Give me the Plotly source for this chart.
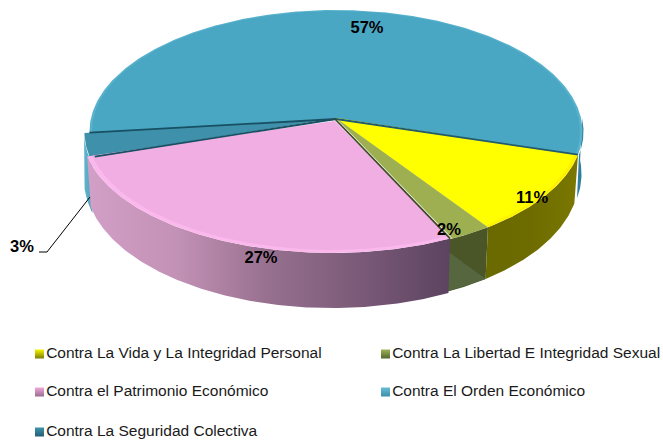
import math
import plotly.graph_objects as go

# ---- data ----
categories = ["Contra La Vida y La Integridad Personal",
              "Contra La Libertad E Integridad Sexual",
              "Contra el Patrimonio Económico",
              "Contra El Orden Económico",
              "Contra La Seguridad Colectiva"]
# order in which slices run clockwise round the pie
slice_names = ["Vida", "Libertad", "Patrimonio", "Seguridad", "Orden"]
slice_values = [10.7, 2.49, 27.01, 3.1, 56.7]
slice_labels = ["11%", "2%", "27%", "3%", "57%"]

# ---- geometry / style ----
CX, CY, A, B, K, DEPTH = 336.0, 118.0, 245.0, 120.0, 0.111, 47.0
START = 17.2
FONT = "Liberation Sans, Arial, sans-serif"
edges = [START]
for val in slice_values:
    edges.append(edges[-1] + val * 3.6)


def P(t, scale=1.0, drop=0.0, xs=1.0):
    r = math.radians(t)
    u, v = scale * math.cos(r), scale * math.sin(r)
    w = 1 - K * v
    return CX + xs * A * u / w, CY + B * v / w + drop / w


def arc(t0, t1, scale=1.0, drop=0.0, xs=1.0):
    n = max(2, int(abs(t1 - t0) * 2))
    return [P(t0 + (t1 - t0) * i / n, scale, drop, xs) for i in range(n + 1)]


fig = go.Figure()


def poly(pts, color=None, grad=None, dx=0.0):
    xs = [p[0] + dx for p in pts] + [pts[0][0] + dx]
    ys = [p[1] for p in pts] + [pts[0][1]]
    kw = dict(x=xs, y=ys, mode="lines", fill="toself", hoverinfo="skip",
              showlegend=False, line=dict(width=0, color="rgba(0,0,0,0)"))
    if grad:
        kw["fillgradient"] = dict(type="horizontal",
                                  colorscale=[[i / (len(grad) - 1), c] for i, c in enumerate(grad)])
    else:
        kw["fillcolor"] = color
    fig.add_trace(go.Scatter(**kw))


def wall(t0, t1, grad=None, color=None, scale=1.0, xs=0.985, depth=DEPTH, top_xs=1.0, dx=0.0):
    pts = arc(t0, t1, scale, 0.0, top_xs) + arc(t1, t0, scale, depth, xs)
    poly(pts, color=color, grad=grad, dx=dx)


def wedge(t0, t1, color, scale=1.0, apex=(CX, CY), xs=1.0, dx=0.0):
    poly([(apex[0] - dx, apex[1])] + arc(t0, t1, scale, 0.0, xs), color=color, dx=dx)


e = edges
PINK_XS, PINK_DX, PINK_APEX = 1.015, -4.0, (335.0, 121.0)
# side walls, far ones first
wall(e[0] - 17, e[0], color="#2f7f9c", scale=1.004, xs=0.992, depth=42)             # Orden sliver
wall(e[3] - 3, e[4] + 1, grad=["#62b4cc", "#4da3bd"], scale=1.022, xs=1.0)          # Seguridad sliver
wall(e[1], e[2] + 2, color="#4a5628")                                                # Libertad
poly([P(e[2] + 2, 1.0, 7), P(e[1], 1.0, DEPTH, 0.985), P(e[2] + 2, 1.0, DEPTH, 0.985)], color="#566740")
wall(e[0], e[1], grad=["#696900", "#6e6c00", "#7a7800"])                             # Vida
wall(e[2], e[3], grad=["#d29fc6", "#c291b5", "#97708f", "#7a5a78", "#5c4360"],
     depth=DEPTH + 2, xs=PINK_XS - 0.015, top_xs=PINK_XS, dx=PINK_DX)                # Patrimonio

# top faces
wedge(e[4] - 360, e[0], "#58b2cc", 1.0)
wedge(e[4] - 360, e[0], "#4aa7c4", 0.99)
wedge(e[3], e[4], "#3f90aa", 1.02)
wedge(e[0], e[1], "#fff200", 1.0)
wedge(e[0], e[1], "#ffff00", 0.985)
wedge(e[1], e[2], "#9daf50", 1.0)
wedge(e[2], e[3], "#fbb8ec", 1.0, apex=PINK_APEX, xs=PINK_XS, dx=PINK_DX)
wedge(e[2], e[3], "#f1aee2", 0.98, apex=PINK_APEX, xs=PINK_XS, dx=PINK_DX)

# dark radial edges
for t, c, sc in [(e[0], "#1f5a6e", 1.0), (e[3], "#174f63", 1.0), (e[4], "#174f63", 1.0)]:
    x1, y1 = P(t, sc)
    fig.add_trace(go.Scatter(x=[CX, x1], y=[CY + 1, y1], mode="lines", hoverinfo="skip", showlegend=False,
                             line=dict(color=c, width=1.8)))
x1, y1 = P(e[2], 1.0, 0.0, PINK_XS)
fig.add_trace(go.Scatter(x=[PINK_APEX[0], x1 + PINK_DX], y=[PINK_APEX[1] - 2, y1], mode="lines", hoverinfo="skip",
                         showlegend=False, line=dict(color="#3d4a22", width=1.8)))

# percentage labels
label_xy = [(532, 199), (449, 231), (261, 259), (22, 248), (367, 29)]
fig.add_trace(go.Scatter(x=[p[0] for p in label_xy], y=[p[1] for p in label_xy], mode="text",
                         text=slice_labels, hoverinfo="skip", showlegend=False,
                         textfont=dict(family=FONT, size=16.5, color="#000000", weight="bold"),
                         textposition="middle center"))
# leader of the 3% label
fig.add_trace(go.Scatter(x=[39, 47, 90], y=[252, 252, 197], mode="lines", hoverinfo="skip", showlegend=False,
                         line=dict(color="#000000", width=1)))

# legend
legend_xy = [(39.5, 354), (385.5, 354), (39.5, 392), (385.5, 392), (39.5, 432)]
legend_col = [("#f5f500", "#7d7d00"), ("#9db458", "#55652c"), ("#f0a8dc", "#9a6c90"),
              ("#66bcd6", "#3d8fa9"), ("#3f93ad", "#235f75")]
for name, (x, y), (c0, c1) in zip(categories, legend_xy, legend_col):
    fig.add_trace(go.Scatter(x=[x], y=[y], mode="markers+text", text=[name], textposition="middle right",
                             hoverinfo="skip", showlegend=False,
                             textfont=dict(family=FONT, size=15.5, color="#1a1a1a"),
                             marker=dict(symbol="square", size=9, color=c0,
                                         gradient=dict(type="vertical", color=c1), line=dict(width=0))))

fig.update_layout(width=663, height=442, margin=dict(l=0, r=0, t=0, b=0),
                  paper_bgcolor="white", plot_bgcolor="white",
                  xaxis=dict(range=[0, 663], visible=False, fixedrange=True),
                  yaxis=dict(range=[442, 0], visible=False, fixedrange=True))
fig.write_html("out.html", config={"displayModeBar": False},
               post_script="document.body.style.margin='0';document.documentElement.style.overflow='hidden';")
